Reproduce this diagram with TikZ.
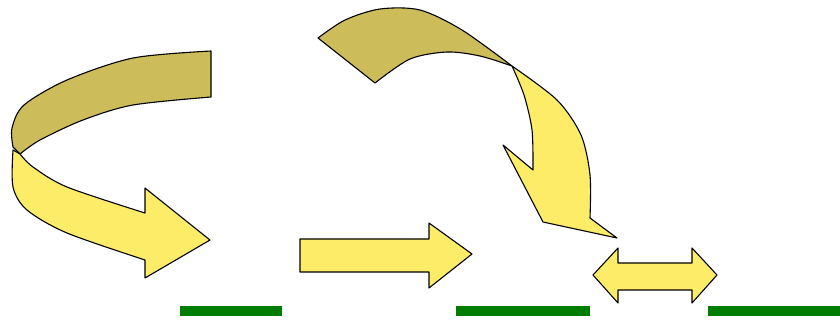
\documentclass[tikz,border=0pt]{standalone}
\usepackage{tikz}
\definecolor{arrowyellow}{RGB}{253,236,104}
\definecolor{arrowolive}{RGB}{204,189,90}
\definecolor{bargreen}{RGB}{0,125,0}
\tikzset{
  front/.style={fill=arrowyellow,draw=black,line width=1.1pt,line join=round},
  back/.style={fill=arrowolive,draw=black,line width=1.1pt,line join=round},
  bar/.style={fill=bargreen}
}

\begin{document}
\begin{tikzpicture}[x=1pt,y=-1pt]
  \useasboundingbox (0,0) rectangle (840,325);
  \filldraw[back] plot[smooth] coordinates {(211,97)(133,105)(83,120)(40,140)(20,154)}
    -- (13,147) -- plot[smooth] coordinates {(13,147)(12,128)(24,105)(67,80)(133,58)(211,51)} -- cycle;
  \filldraw[front] plot[smooth] coordinates {(20,154)(33,167)(67,187)(145,213)}
    -- (145,188) -- (210,240) -- (145,278)
    -- plot[smooth] coordinates {(145,260)(67,233)(27,210)(13,187)(13,150)} -- cycle;
  \filldraw[back] plot[smooth] coordinates {(318,38)(345,20)(380,9)(420,10)(462,30)(512,66)}
    -- plot[smooth] coordinates {(512,66)(480,56)(447,52)(410,59)(375,83)} -- cycle;
  \filldraw[front] plot[smooth] coordinates {(512,66)(557,100)(581,135)(590,175)(590,218)}
    -- (617,238) -- (543,222) -- (503,145) -- (533,170)
    -- plot[smooth] coordinates {(533,170)(532,130)(524,95)(512,66)} -- cycle;
  \filldraw[front] (300,239) -- (429,239) -- (429,223) -- (472,254) -- (429,288)
    -- (429,272) -- (300,272) -- cycle;
  \filldraw[front] (593,275) -- (618,248) -- (618,263) -- (692,263) -- (692,248)
    -- (717,275) -- (692,303) -- (692,290) -- (618,290) -- (618,303) -- cycle;
  \fill[bar] (180,306) rectangle (282,316);
  \fill[bar] (456,306) rectangle (590,316);
  \fill[bar] (708,306) rectangle (840,316);
\end{tikzpicture}
\end{document}
